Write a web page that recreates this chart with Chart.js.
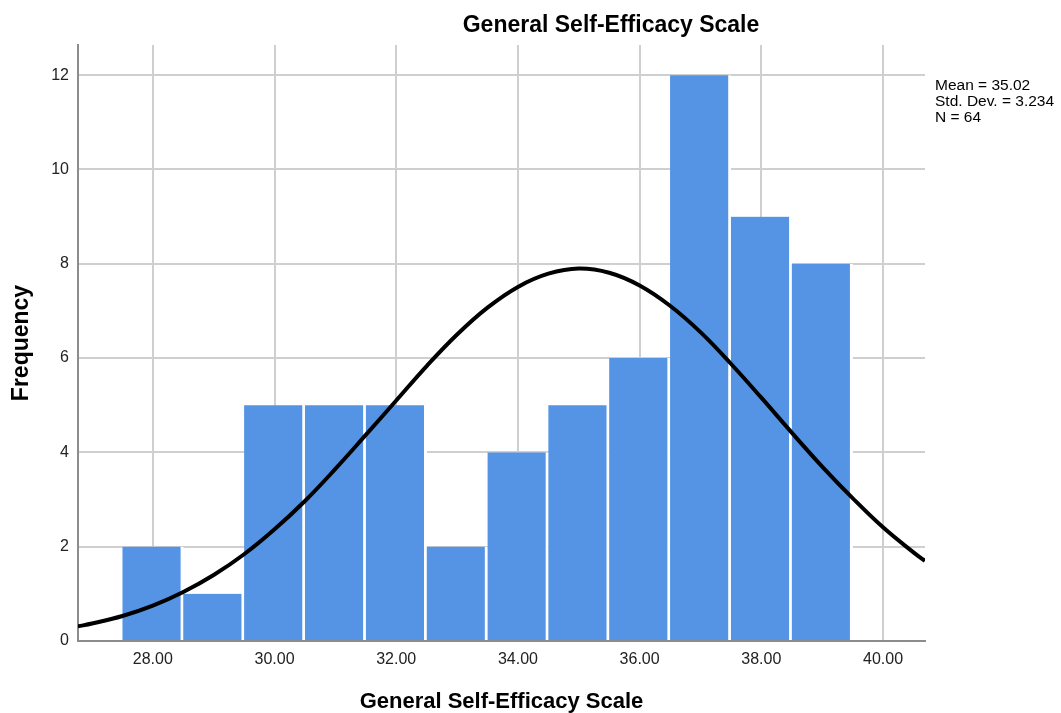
<!DOCTYPE html>
<html>
<head>
<meta charset="utf-8">
<script src="https://cdn.jsdelivr.net/npm/chart.js@4.4.0/dist/chart.umd.min.js"></script>
<style>
  body { margin: 0; background: #fff; }
  #wrap { width: 1061px; height: 713px; position: relative; }
</style>
</head>
<body>
<div id="wrap"><canvas id="myChart" width="1061" height="713"></canvas></div>
<script>
// histogram bins (centre of each bin) and counts
const binCentres = [28, 29, 30, 31, 32, 33, 34, 35, 36, 37, 38, 39]
const counts = [2, 1, 5, 5, 5, 2, 4, 5, 6, 12, 9, 8]

// normal curve
const curveX = [26.77, 27, 27.5, 28, 28.5, 29, 29.5, 30, 30.5, 31, 31.5, 32, 32.5, 33, 33.5, 34, 34.5, 35, 35.5, 36, 36.5, 37, 37.5, 38, 38.5, 39, 39.5, 40, 40.5, 40.69]
const curveY = [0.31, 0.37, 0.53, 0.75, 1.04, 1.4, 1.84, 2.37, 2.97, 3.65, 4.37, 5.1, 5.83, 6.5, 7.07, 7.51, 7.79, 7.9, 7.81, 7.54, 7.11, 6.55, 5.88, 5.16, 4.42, 3.7, 3.03, 2.41, 1.88, 1.7]

const xTicks = [28, 30, 32, 34, 36, 38, 40]
const yTicks = [0, 2, 4, 6, 8, 10, 12]
const statsLines = ['Mean = 35.02', 'Std. Dev. = 3.234', 'N = 64']
const chartTitle = 'General Self-Efficacy Scale'

const fontFam = '"Liberation Sans", Arial, sans-serif'

// title + stats box, SPSS puts them in odd spots so draw them by hand
const textPlugin = {
  id: 'textPlugin',
  afterDraw(chart) {
    const ctx = chart.ctx
    ctx.save()
    ctx.fillStyle = '#000'
    ctx.font = 'bold 23px ' + fontFam
    ctx.textAlign = 'center'
    ctx.textBaseline = 'middle'
    ctx.fillText(chartTitle, 611, 26)
    ctx.font = '15.5px ' + fontFam
    ctx.textAlign = 'left'
    statsLines.forEach((t, i) => {
      ctx.fillText(t, 935, 86 + i * 16)
    })
    ctx.restore()
  }
}

const ctx = document.getElementById('myChart')

new Chart(ctx, {
  type: 'bar',
  data: {
    datasets: [{
      type: 'line',
      data: curveX.map((x, i) => ({x: x, y: curveY[i]})),
      borderColor: '#000',
      borderWidth: 4,
      pointRadius: 0,
      tension: 0.4,
      fill: false,
      order: 0
    }, {
      type: 'bar',
      data: binCentres.map((x, i) => ({x: x, y: counts[i]})),
      backgroundColor: '#5594e4',
      borderColor: '#fff',
      borderWidth: {right: 3, left: 0, top: 0, bottom: 0},
      borderSkipped: false,
      barPercentage: 1,
      categoryPercentage: 1,
      order: 1
    }]
  },
  options: {
    responsive: false,
    animation: false,
    layout: { padding: { top: 45, right: 136, left: 0, bottom: 0 } },
    plugins: {
      legend: { display: false },
      tooltip: { enabled: false }
    },
    scales: {
      x: {
        type: 'linear',
        min: 26.77,
        max: 40.69,
        offset: false,
        afterBuildTicks: (scale) => { scale.ticks = xTicks.map(v => ({value: v})) },
        afterFit: (scale) => { scale.height = 72 },
        grid: { color: '#cfcfcf', lineWidth: 2, drawTicks: false, offset: false },
        border: { color: '#8c8c8c', width: 2 },
        ticks: {
          padding: 9,
          color: '#222',
          font: { size: 16, family: fontFam },
          callback: (v) => v.toFixed(2)
        },
        title: {
          display: true,
          text: 'General Self-Efficacy Scale',
          color: '#000',
          padding: { top: 0, bottom: -2 },
          font: { size: 22, weight: 'bold', family: fontFam }
        }
      },
      y: {
        min: 0,
        max: 12.64,
        afterBuildTicks: (scale) => { scale.ticks = yTicks.map(v => ({value: v})) },
        afterFit: (scale) => { scale.width = 78 },
        grid: { color: '#cfcfcf', lineWidth: 2, drawTicks: false },
        border: { color: '#8c8c8c', width: 2 },
        ticks: {
          padding: 9,
          color: '#222',
          font: { size: 16, family: fontFam }
        },
        title: {
          display: true,
          text: 'Frequency',
          color: '#000',
          padding: { top: 8, bottom: 0 },
          font: { size: 23, weight: 'bold', family: fontFam }
        }
      }
    }
  },
  plugins: [textPlugin]
});
</script>
</body>
</html>
